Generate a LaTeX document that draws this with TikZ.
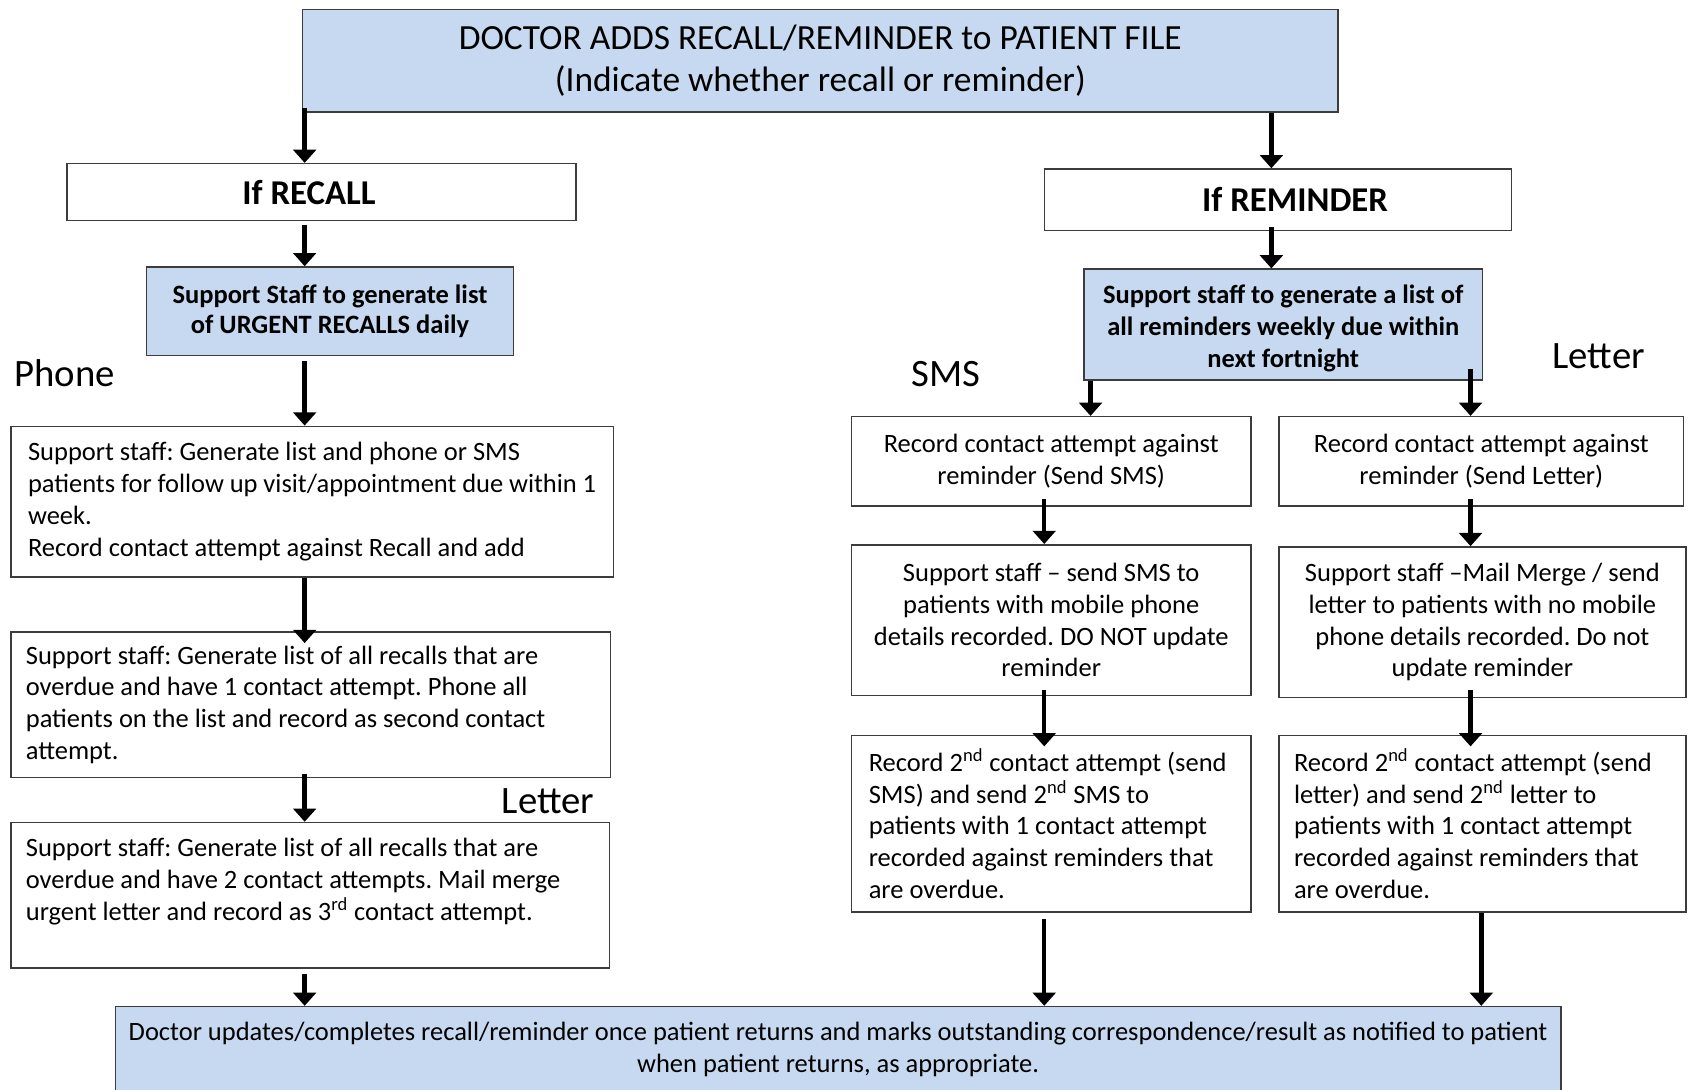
\documentclass[tikz,border=0pt]{standalone}
\usepackage{fontspec}
\setmainfont{Carlito}
\usepackage{tikz}
\usetikzlibrary{positioning, arrows.meta}
\frenchspacing

\definecolor{boxblue}{RGB}{198,217,240}
\definecolor{boxline}{RGB}{60,60,60}

\tikzset{
  box/.style={draw=boxline, line width=0.8pt, inner sep=0pt, align=center,
    font=\fontsize{14}{16.8}\selectfont},
  bluebox/.style={box, fill=boxblue},
  leftbox/.style={box, align=flush left, inner xsep=#1},
  leftbox/.default=0.3cm,
  branch/.style={font=\fontsize{20.5}{24}\selectfont},
  arr/.style={-{Triangle[width=12pt,length=7pt]}, line width=2.3pt},
}

\begin{document}
\begin{tikzpicture}[x=0.02cm, y=-0.02cm]
  \useasboundingbox (0,0) rectangle (1568,1012);
  \clip (0,0) rectangle (1568,1012);

  % columns for the connectors
  \coordinate (colL) at (283,0);
  \coordinate (colR) at (1181,0);
  \coordinate (colB) at (1013,0);
  \coordinate (colS) at (970,0);
  \coordinate (colT) at (1366,0);
  \coordinate (colE) at (1376,0);

  % top
  \node[bluebox, minimum width=19.24cm, minimum height=1.9cm,
        font=\fontsize{18.7}{22.2}\selectfont] (doctor) at (762,56.5)
    {DOCTOR ADDS RECALL/REMINDER to PATIENT FILE\\(Indicate whether recall or reminder)};

  \node[box, minimum width=9.46cm, minimum height=1.06cm,
        font=\bfseries\fontsize{18.4}{22}\selectfont] (recall) at (298.5,178.5)
    {If RECALL\hspace*{0.46cm}};
  \node[box, minimum width=8.68cm, minimum height=1.14cm,
        font=\bfseries\fontsize{18.4}{22}\selectfont] (reminder) at (1187,185.5)
    {\hspace*{0.64cm}If REMINDER};

  \node[bluebox, minimum width=6.82cm, minimum height=1.64cm,
        font=\bfseries\fontsize{14}{15.9}\selectfont] (urgent) at (306.5,289)
    {Support Staff to generate list\\of URGENT RECALLS daily};
  \node[bluebox, minimum width=7.4cm, minimum height=2.06cm,
        font=\bfseries\fontsize{14}{17}\selectfont] (weekly) at (1192,301.5)
    {\rule{0pt}{0.5cm}Support staff to generate a list of\\all reminders weekly due within\\next fortnight};

  % branch labels
  \node[branch] (phonelbl) at (60,347) {Phone};
  \node[branch] (smslbl) at (879,347) {SMS};
  \node[branch] (letterlblR) at (1485,331) {Letter};
  \node[branch] (letterlblL) at (509,744) {Letter};

  % recall column
  \node[leftbox=0.32cm, text width=10.56cm, minimum height=2.8cm] (phonelist) at (290,466)
    {Support staff: Generate list and phone or SMS\\patients for follow up visit/appointment due within 1\\week.\\Record contact attempt against Recall and add};
  \node[leftbox=0.28cm, text width=10.58cm, minimum height=2.7cm] (secondcall) at (288.5,654.5)
    {Support staff: Generate list of all recalls that are\\overdue and have 1 contact attempt. Phone all\\patients on the list and record as second contact\\attempt.};
  \node[leftbox=0.28cm, text width=10.56cm, minimum height=2.7cm] (thirdletter) at (288,831.5)
    {Support staff: Generate list of all recalls that are\\overdue and have 2 contact attempts. Mail merge\\urgent letter and record as 3\textsuperscript{rd} contact attempt.\\\mbox{}};

  % reminder columns
  \node[box, minimum width=7.42cm, minimum height=1.66cm] (smsrec) at (976.5,428.5)
    {Record contact attempt against\\reminder (Send SMS)};
  \node[box, minimum width=7.52cm, minimum height=1.66cm] (letrec) at (1376,428.5)
    {Record contact attempt against\\reminder (Send Letter)};
  \node[box, minimum width=7.42cm, minimum height=2.8cm] (smssend) at (976.5,576)
    {Support staff – send SMS to\\patients with mobile phone\\details recorded. DO NOT update\\reminder};
  \node[box, minimum width=7.56cm, minimum height=2.8cm] (letsend) at (1377,578)
    {Support staff –Mail Merge / send\\letter to patients with no mobile\\phone details recorded. Do not\\update reminder};
  \node[leftbox=0.32cm, text width=6.78cm, minimum height=3.28cm] (smssecond) at (976.5,765)
    {Record 2\textsuperscript{nd} contact attempt (send\\SMS) and send 2\textsuperscript{nd} SMS to\\patients with 1 contact attempt\\recorded against reminders that\\are overdue.};
  \node[leftbox=0.28cm, text width=7.0cm, minimum height=3.28cm] (letsecond) at (1377,765)
    {Record 2\textsuperscript{nd} contact attempt (send\\letter) and send 2\textsuperscript{nd} letter to\\patients with 1 contact attempt\\recorded against reminders that\\are overdue.};

  % bottom
  \node[bluebox, minimum width=26.86cm, minimum height=1.58cm] (final) at (778.5,974.5)
    {Doctor updates/completes recall/reminder once patient returns and marks outstanding correspondence/result as notified to patient\\when patient returns, as appropriate.};

  % connectors
  \draw[arr] ([yshift=0.08cm]doctor.south -| colL) -- (recall.north -| colL);
  \draw[arr] (doctor.south -| colR) -- (reminder.north -| colR);
  \draw[arr] ([yshift=-0.06cm]recall.south -| colL) -- (urgent.north -| colL);
  \draw[arr] ([yshift=0.08cm]reminder.south -| colR) -- (weekly.north -| colR);
  \draw[arr] ([yshift=-0.1cm]urgent.south -| colL) -- (phonelist.north -| colL);
  \draw[arr] (phonelist.south -| colL) -- ([yshift=-0.22cm]secondcall.north -| colL);
  \draw[arr] ([yshift=0.08cm]secondcall.south -| colL) -- (thirdletter.north -| colL);
  \draw[arr] ([yshift=-0.1cm]thirdletter.south -| colL) -- (final.north -| colL);
  \draw[arr] (weekly.south -| colB) -- (smsrec.north -| colB);
  \draw[arr] ([yshift=0.22cm]weekly.south -| colT) -- (letrec.north -| colT);
  \draw[arr] ([yshift=0.14cm]smsrec.south -| colS) -- (smssend.north -| colS);
  \draw[arr] ([yshift=0.14cm]letrec.south -| colT) -- (letsend.north -| colT);
  \draw[arr] ([yshift=0.12cm]smssend.south -| colS) -- ([yshift=-0.22cm]smssecond.north -| colS);
  \draw[arr] ([yshift=0.16cm]letsend.south -| colT) -- ([yshift=-0.22cm]letsecond.north -| colT);
  \draw[arr] ([yshift=-0.12cm]smssecond.south -| colS) -- (final.north -| colS);
  \draw[arr] (letsecond.south -| colE) -- (final.north -| colE);
\end{tikzpicture}
\end{document}
